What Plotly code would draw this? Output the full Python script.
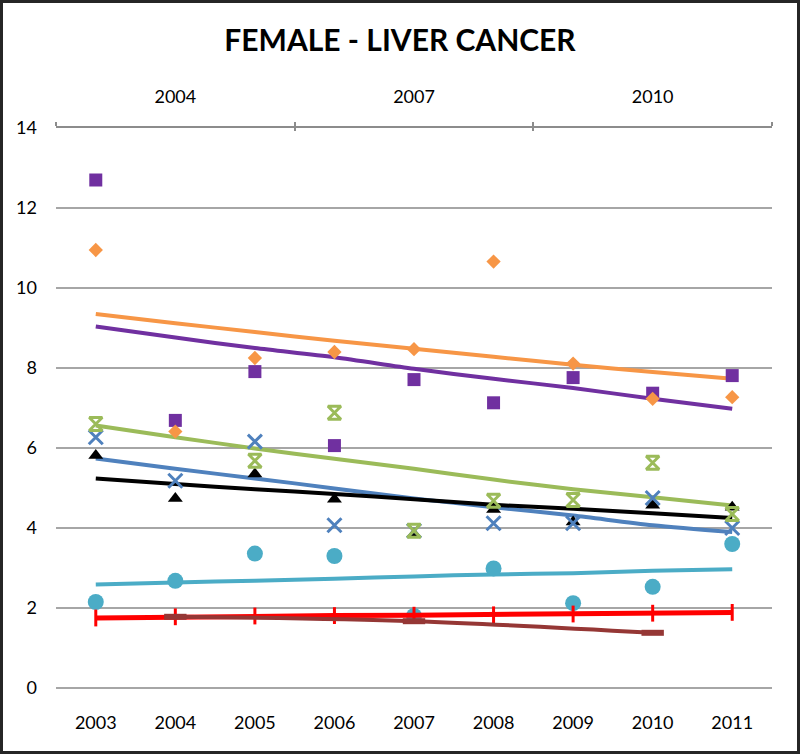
import plotly.graph_objects as go

years = [2003, 2004, 2005, 2006, 2007, 2008, 2009, 2010, 2011]
top_years = [2004, 2007, 2010]
y_ticks = [0, 2, 4, 6, 8, 10, 12, 14]

purple_pts = [12.70, 6.69, 7.91, 6.06, 7.71, 7.13, 7.76, 7.37, 7.81]
orange_pts = [10.95, 6.41, 8.25, 8.40, 8.47, 10.66, 8.11, 7.23, 7.27]
green_pts = [6.60, None, 5.68, 6.88, 3.93, 4.68, 4.70, 5.63, 4.35]
blue_pts = [6.27, 5.18, 6.16, 4.07, 3.93, 4.12, 4.12, 4.75, 4.00]
black_pts = [5.81, 4.74, 5.35, 4.72, 3.85, 4.46, 4.15, 4.57, 4.52]
cyan_pts = [2.15, 2.68, 3.36, 3.30, 1.80, 2.99, 2.12, 2.53, 3.60]

orange_trend = [9.35, 9.12, 8.90, 8.68, 8.48, 8.28, 8.08, 7.90, 7.73]
purple_trend = [9.04, 8.76, 8.50, 8.27, 7.98, 7.73, 7.50, 7.23, 6.98]
green_trend = [6.56, 6.27, 5.99, 5.73, 5.48, 5.21, 4.97, 4.77, 4.56]
blue_trend = [5.74, 5.48, 5.24, 4.99, 4.74, 4.52, 4.31, 4.07, 3.90]
black_trend = [5.24, 5.10, 4.97, 4.85, 4.72, 4.58, 4.48, 4.37, 4.25]
cyan_trend = [2.59, 2.64, 2.68, 2.73, 2.79, 2.84, 2.87, 2.93, 2.97]

red_vals = [1.75, 1.78, 1.80, 1.81, 1.82, 1.83, 1.85, 1.87, 1.89]
brown_years = [2004, 2007, 2010]
brown_vals = [1.78, 1.67, 1.38]

PURPLE = "#7030A0"
ORANGE = "#F79646"
GREEN = "#9BBB59"
BLUE = "#4F81BD"
BLACK = "#000000"
CYAN = "#4BACC6"
RED = "#FF0000"
BROWN = "#953735"

FONT = "Lato"

fig = go.Figure()

# trend lines
for vals, col in [(orange_trend, ORANGE), (purple_trend, PURPLE), (green_trend, GREEN),
                  (blue_trend, BLUE), (black_trend, BLACK), (cyan_trend, CYAN)]:
    fig.add_trace(go.Scatter(x=years, y=vals, mode="lines",
                             line=dict(color=col, width=4, shape="spline", smoothing=0.8),
                             hoverinfo="skip", showlegend=False))

# data markers
fig.add_trace(go.Scatter(x=years, y=cyan_pts, mode="markers",
                         marker=dict(symbol="circle", size=16, color=CYAN), showlegend=False))
fig.add_trace(go.Scatter(x=years, y=purple_pts, mode="markers",
                         marker=dict(symbol="square", size=13, color=PURPLE), showlegend=False))
fig.add_trace(go.Scatter(x=years, y=orange_pts, mode="markers",
                         marker=dict(symbol="diamond", size=11, color=ORANGE), showlegend=False))
fig.add_trace(go.Scatter(x=years, y=black_pts, mode="markers",
                         marker=dict(symbol="triangle-up", size=13, color=BLACK), showlegend=False))
fig.add_trace(go.Scatter(x=years, y=blue_pts, mode="markers",
                         marker=dict(symbol="x-thin-open", size=14, color=BLUE,
                                     line=dict(color=BLUE, width=3)), showlegend=False))
fig.add_trace(go.Scatter(x=years, y=green_pts, mode="markers",
                         marker=dict(symbol="hourglass-open", size=13, color=GREEN,
                                     line=dict(color=GREEN, width=3)), showlegend=False))

# red series
fig.add_trace(go.Scatter(x=years, y=red_vals, mode="lines+markers",
                         line=dict(color=RED, width=5),
                         marker=dict(symbol="line-ns-open", size=12, color=RED,
                                     line=dict(color=RED, width=3)), showlegend=False))
# brown series
fig.add_trace(go.Scatter(x=brown_years, y=brown_vals, mode="lines+markers",
                         line=dict(color=BROWN, width=4, shape="spline"),
                         marker=dict(symbol="line-ew-open", size=16, color=BROWN,
                                     line=dict(color=BROWN, width=6)), showlegend=False))

xr = [years[0] - 0.5, years[-1] + 0.5]
bounds = [years[0] - 0.5 + 3 * i for i in range(4)]

fig.update_layout(
    width=800, height=754,
    margin=dict(l=56, r=28, t=128, b=66),
    paper_bgcolor="white", plot_bgcolor="white",
    font=dict(family=FONT, size=18, color="#000000"),
    title=dict(text="<b>FEMALE - LIVER CANCER</b>", x=0.5, xref="container", xanchor="center",
               y=1 - 40 / 754, yref="container", yanchor="middle",
               font=dict(family=FONT, size=30, color="#000000")),
    xaxis=dict(range=xr, tickvals=years, ticktext=[str(y) for y in years],
               showgrid=False, showline=False, zeroline=False, ticks="",
               ticklabelstandoff=22, tickfont=dict(size=18)),
    xaxis2=dict(range=xr, overlaying="x", side="top", tickvals=top_years,
                ticktext=[str(y) for y in top_years], showgrid=False, showline=False,
                zeroline=False, ticks="", ticklabelstandoff=20, tickfont=dict(size=18)),
    xaxis3=dict(range=xr, overlaying="x", side="top", tickvals=bounds, showticklabels=False,
                showgrid=False, zeroline=False, showline=True, linecolor="#8c8c8c", linewidth=1.5,
                ticks="outside", ticklen=4, tickcolor="#8c8c8c", tickwidth=1.5),
    xaxis4=dict(range=xr, overlaying="x", side="top", tickvals=bounds, showticklabels=False,
                showgrid=False, zeroline=False, showline=False,
                ticks="inside", ticklen=3, tickcolor="#8c8c8c", tickwidth=1.5),
    yaxis=dict(range=[0, 14], tickvals=y_ticks, showgrid=True, gridcolor="#a6a6a6", gridwidth=1.5,
               zeroline=True, zerolinecolor="#a6a6a6", zerolinewidth=1.5, showline=False,
               ticks="", ticklabelstandoff=18, tickfont=dict(size=18)),
)

# dummy traces to activate the top axes
fig.add_trace(go.Scatter(x=[None], y=[None], xaxis="x2", showlegend=False, hoverinfo="skip"))
fig.add_trace(go.Scatter(x=[None], y=[None], xaxis="x3", showlegend=False, hoverinfo="skip"))
fig.add_trace(go.Scatter(x=[None], y=[None], xaxis="x4", showlegend=False, hoverinfo="skip"))

# outer frame
pw, ph = 716.0, 560.0
fig.add_shape(type="rect", xref="paper", yref="paper",
              x0=(-56 + 1.5) / pw, x1=1 + (28 - 1.5) / pw,
              y0=(-66 + 1.5) / ph, y1=1 + (128 - 1.5) / ph,
              line=dict(color="#262626", width=3), fillcolor="rgba(0,0,0,0)", layer="above")

fig.write_html("out.html", config={"displayModeBar": False},
               post_script="document.body.style.margin='0';document.body.style.overflow='hidden';")
